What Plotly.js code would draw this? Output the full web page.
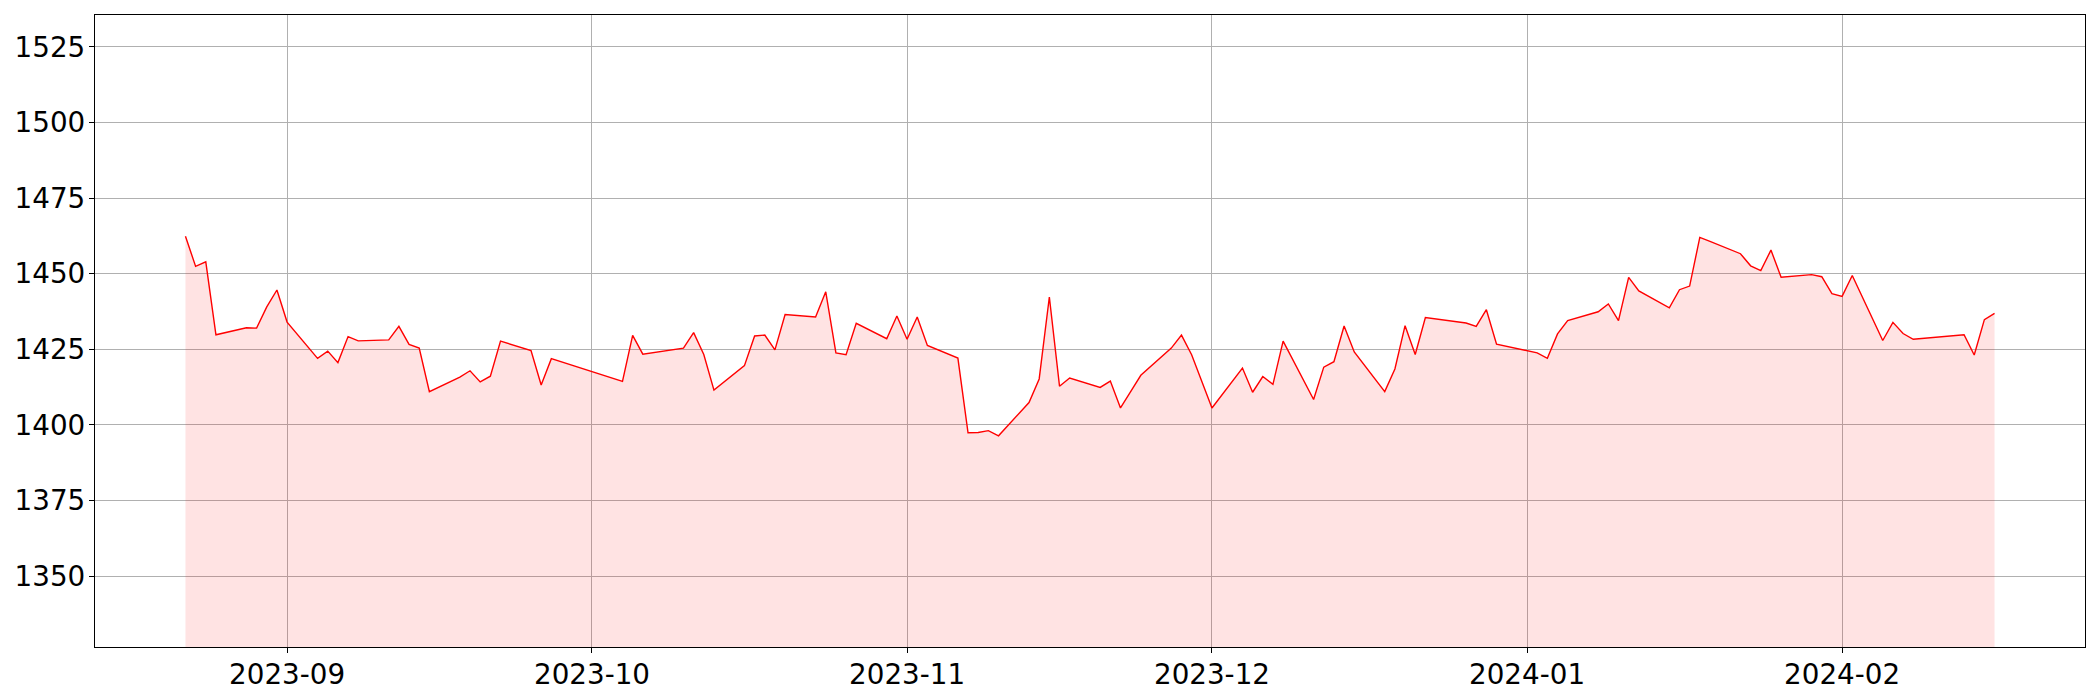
<!DOCTYPE html>
<html>
<head>
<meta charset="utf-8">
<script src="https://cdn.plot.ly/plotly-3.0.1.min.js"></script>
<style>html,body{margin:0;padding:0;background:#fff;}#chart{width:2100px;height:700px;}</style>
</head>
<body>
<div id="chart"></div>
<script>
const dates = [
"2023-08-22","2023-08-23","2023-08-24","2023-08-25","2023-08-28","2023-08-29","2023-08-30","2023-08-31","2023-09-01",
"2023-09-04","2023-09-05","2023-09-06","2023-09-07","2023-09-08","2023-09-11","2023-09-12","2023-09-13","2023-09-14","2023-09-15",
"2023-09-18","2023-09-19","2023-09-20","2023-09-21","2023-09-22","2023-09-25","2023-09-26","2023-09-27",
"2023-10-04","2023-10-05","2023-10-06","2023-10-10","2023-10-11","2023-10-12","2023-10-13",
"2023-10-16","2023-10-17","2023-10-18","2023-10-19","2023-10-20","2023-10-23","2023-10-24","2023-10-25","2023-10-26","2023-10-27",
"2023-10-30","2023-10-31","2023-11-01","2023-11-02","2023-11-03","2023-11-06","2023-11-07","2023-11-08","2023-11-09","2023-11-10",
"2023-11-13","2023-11-14","2023-11-15","2023-11-16","2023-11-17","2023-11-20","2023-11-21","2023-11-22","2023-11-23","2023-11-24",
"2023-11-27","2023-11-28","2023-11-29","2023-11-30","2023-12-01","2023-12-04","2023-12-05","2023-12-06","2023-12-07","2023-12-08",
"2023-12-11","2023-12-12","2023-12-13","2023-12-14","2023-12-15","2023-12-18","2023-12-19","2023-12-20","2023-12-21","2023-12-22",
"2023-12-26","2023-12-27","2023-12-28","2023-12-29","2024-01-02","2024-01-03","2024-01-04","2024-01-05",
"2024-01-08","2024-01-09","2024-01-10","2024-01-11","2024-01-12","2024-01-15","2024-01-16","2024-01-17","2024-01-18","2024-01-19",
"2024-01-22","2024-01-23","2024-01-24","2024-01-25","2024-01-26","2024-01-29","2024-01-30","2024-01-31","2024-02-01","2024-02-02",
"2024-02-05","2024-02-06","2024-02-07","2024-02-08","2024-02-13","2024-02-14","2024-02-15","2024-02-16"
];
const values = [
1462.4,1452.4,1453.9,1429.8,1432.1,1432.0,1439.0,1444.6,1434.0,
1422.0,1424.4,1420.6,1429.2,1427.8,1428.1,1432.6,1426.6,1425.4,1411.0,
1415.8,1417.9,1414.2,1416.1,1427.7,1424.6,1413.2,1421.9,
1414.4,1429.6,1423.4,1425.4,1430.5,1423.3,1411.5,
1419.6,1429.4,1429.7,1424.8,1436.5,1435.7,1444.0,1423.8,1423.2,1433.6,
1428.5,1436.0,1428.3,1435.7,1426.3,1422.1,1397.4,1397.5,1398.1,1396.4,
1407.4,1415.2,1442.3,1412.8,1415.5,1412.4,1414.5,1405.6,1411.0,1416.4,
1425.4,1429.7,1423.2,1414.5,1405.6,1418.8,1410.8,1416.0,1413.4,1427.7,
1408.4,1419.1,1420.9,1432.7,1424.1,1411.0,1418.5,1432.8,1423.3,1435.5,
1433.7,1432.6,1438.1,1426.7,1423.8,1422.0,1430.1,1434.5,
1437.4,1440.0,1434.5,1448.8,1444.3,1438.7,1444.7,1445.9,1462.0,1460.7,
1456.6,1452.6,1451.0,1457.8,1448.8,1449.7,1449.0,1443.4,1442.5,1449.4,
1427.9,1433.9,1430.2,1428.3,1429.8,1423.1,1434.8,1436.9
];
const xTickFormat = "%Y-%m";

const t0 = new Date(dates[0] + "T00:00:00Z").getTime();
const t1 = new Date(dates[dates.length - 1] + "T00:00:00Z").getTime();
const pad = (t1 - t0) * 0.05;
const iso = ms => new Date(ms).toISOString().replace("T", " ").replace("Z", "");
const yMin = Math.min(...values) * 0.95;
const yMax = Math.max(...values) * 1.05;

const font = {family: "DejaVu Sans", size: 27.78, color: "#000"};
const trace = {
  x: dates, y: values, type: "scatter", mode: "lines",
  line: {color: "#ff0000", width: 1.4},
  fill: "tozeroy", fillcolor: "rgba(255,0,0,0.11)",
  hoverinfo: "skip"
};
const layout = {
  width: 2100, height: 700,
  margin: {l: 95, r: 15, t: 15, b: 53, pad: 0},
  paper_bgcolor: "#fff", plot_bgcolor: "#fff",
  showlegend: false,
  font: font,
  xaxis: {
    type: "date", range: [iso(t0 - pad), iso(t1 + pad)],
    tickformat: xTickFormat, dtick: "M1", tick0: "2023-09-01",
    showgrid: true, gridcolor: "#b0b0b0", gridwidth: 1,
    showline: true, linecolor: "#000", linewidth: 1.2, mirror: true,
    ticks: "outside", ticklen: 5, tickwidth: 1, tickcolor: "#000",
    ticklabelstandoff: -3,
    tickfont: font, zeroline: false
  },
  yaxis: {
    range: [yMin, yMax], dtick: 25, tick0: 0,
    showgrid: true, gridcolor: "#b0b0b0", gridwidth: 1,
    showline: true, linecolor: "#000", linewidth: 1.2, mirror: true,
    ticks: "outside", ticklen: 5, tickwidth: 1, tickcolor: "#000",
    ticklabelstandoff: -2,
    tickfont: font, zeroline: false, tickformat: "d"
  }
};
Plotly.newPlot("chart", [trace], layout, {staticPlot: true, displayModeBar: false});
</script>
</body>
</html>
